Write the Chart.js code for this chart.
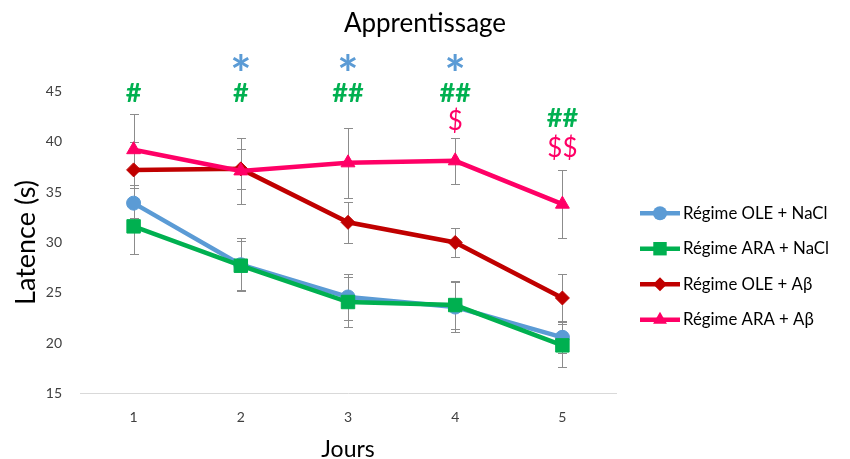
<!DOCTYPE html>
<html>
<head>
<meta charset="utf-8">
<script src="https://cdn.jsdelivr.net/npm/chart.js@4.4.1/dist/chart.umd.min.js"></script>
<style>
  html, body { margin: 0; padding: 0; background: #fff; }
  #wrap { width: 850px; height: 459px; }
</style>
</head>
<body>
<div id="wrap"><canvas id="chart"></canvas></div>
<script>
const days = ["1", "2", "3", "4", "5"];

const oleNacl = [33.9, 27.8, 24.6, 23.6, 20.6];
const araNacl = [31.6, 27.7, 24.1, 23.8, 19.8];
const oleAbeta = [37.2, 37.3, 32.0, 30.0, 24.5];
const araAbeta = [39.2, 37.1, 37.9, 38.1, 33.8];

// SEM for each group
const oleNaclErr = [1.5, 2.6, 2.3, 2.5, 1.6];
const araNaclErr = [2.7, 2.4, 2.5, 2.4, 2.1];
const oleAbetaErr = [2.8, 2.0, 2.0, 1.4, 2.4];
const araAbetaErr = [3.5, 3.3, 3.5, 2.3, 3.4];

const yTicks = [15, 20, 25, 30, 35, 40, 45];

// significance marks above each day
const starMarks = ["", "*", "*", "*", ""];
const hashMarks = ["#", "#", "##", "##", "##"];
const dollarMarks = ["", "", "", "$", "$$"];
// where each mark row is centred (in y units)
const starLevel = [47.8, 47.8, 47.8, 47.8, 47.8];
const hashLevel = [44.9, 44.9, 44.9, 44.9, 42.4];
const dollarLevel = [0, 0, 0, 42.1, 39.5];

const FONT = "Lato, 'Open Sans', sans-serif";

const COLORS = ["#5B9BD5", "#00B050", "#C00000", "#FF0066"];
const STYLES = ["circle", "rect", "rectRot", "triangle"];
const RADII = [7, 9.5, 7, 8];

function makeSet(label, data, err, i) {
  return {
    label: label, data: data, err: err,
    borderColor: COLORS[i], backgroundColor: COLORS[i],
    borderWidth: 4.5, pointStyle: STYLES[i],
    pointRadius: RADII[i], pointHoverRadius: RADII[i],
    pointBorderWidth: 1,
    tension: 0, order: 4 - i
  };
}

const errorBars = {
  id: "errorBars",
  beforeDatasetsDraw(chart) {
    const ctx = chart.ctx;
    const y = chart.scales.y;
    ctx.save();
    ctx.strokeStyle = "#8c8c8c";
    ctx.lineWidth = 1;
    chart.data.datasets.forEach((ds, i) => {
      const meta = chart.getDatasetMeta(i);
      meta.data.forEach((pt, j) => {
        const v = ds.data[j], e = ds.err[j];
        const top = Math.round(y.getPixelForValue(v + e)) + 0.5;
        const bot = Math.round(y.getPixelForValue(v - e)) + 0.5;
        const x = Math.round(pt.x) + 0.5;
        ctx.beginPath();
        ctx.moveTo(x, top); ctx.lineTo(x, bot);
        ctx.moveTo(x - 4.5, top); ctx.lineTo(x + 4.5, top);
        ctx.moveTo(x - 4.5, bot); ctx.lineTo(x + 4.5, bot);
        ctx.stroke();
      });
    });
    ctx.restore();
  }
};

const sigMarks = {
  id: "sigMarks",
  afterDraw(chart) {
    const ctx = chart.ctx;
    const x = chart.scales.x, y = chart.scales.y;
    ctx.save();
    ctx.textAlign = "center";
    ctx.textBaseline = "alphabetic";
    const rows = [
      [starMarks, starLevel, COLORS[0], "bold 50px " + FONT],
      [hashMarks, hashLevel, COLORS[1], "bold 27px " + FONT],
      [dollarMarks, dollarLevel, COLORS[3], "26px " + FONT]
    ];
    rows.forEach(([marks, levels, color, font]) => {
      ctx.fillStyle = color;
      ctx.font = font;
      marks.forEach((m, j) => {
        if (!m) return;
        const tm = ctx.measureText(m);
        // centre the glyph box on the target
        const off = (tm.actualBoundingBoxAscent - tm.actualBoundingBoxDescent) / 2;
        ctx.fillText(m, x.getPixelForValue(j), y.getPixelForValue(levels[j]) + off);
      });
    });
    ctx.restore();
  }
};

// legend on the right: line + marker, then label
const sideLegend = {
  id: "sideLegend",
  afterDraw(chart) {
    const ctx = chart.ctx;
    const area = chart.chartArea;
    const left = area.right + 24;
    ctx.save();
    chart.data.datasets.forEach((ds, i) => {
      const cy = area.top + 122 + i * 35.5;
      ctx.strokeStyle = ds.borderColor;
      ctx.lineWidth = 4.5;
      ctx.beginPath(); ctx.moveTo(left, cy); ctx.lineTo(left + 40, cy); ctx.stroke();
      ctx.fillStyle = ds.borderColor;
      Chart.helpers.drawPoint(ctx, { pointStyle: ds.pointStyle, radius: ds.pointRadius, rotation: 0, borderWidth: 0 }, left + 20, cy);
      ctx.fillStyle = "#000";
      ctx.font = "16.8px " + FONT;
      ctx.textAlign = "left";
      ctx.textBaseline = "middle";
      ctx.fillText(ds.label, left + 43, cy);
    });
    ctx.restore();
  }
};

new Chart(document.getElementById("chart"), {
  type: "line",
  data: {
    labels: days,
    datasets: [
      makeSet("Régime OLE + NaCl", oleNacl, oleNaclErr, 0),
      makeSet("Régime ARA + NaCl", araNacl, araNaclErr, 1),
      makeSet("Régime OLE + Aβ", oleAbeta, oleAbetaErr, 2),
      makeSet("Régime ARA + Aβ", araAbeta, araAbetaErr, 3)
    ]
  },
  options: {
    responsive: true,
    maintainAspectRatio: false,
    animation: false,
    layout: { padding: 0 },
    plugins: {
      tooltip: { enabled: false },
      legend: { display: false },
      title: {
        display: true, text: "Apprentissage", color: "#000",
        font: { family: FONT, size: 26, weight: "normal" },
        padding: { top: 8, bottom: 52 }
      }
    },
    scales: {
      x: {
        offset: true,
        grid: { display: false, drawTicks: false },
        border: { display: true, color: "#d9d9d9", width: 1 },
        ticks: { color: "#404040", font: { family: FONT, size: 14 }, padding: 15 },
        title: { display: true, text: "Jours", color: "#000", font: { family: FONT, size: 23, lineHeight: 0.8 }, padding: 0 }
      },
      y: {
        min: 15, max: 45,
        afterBuildTicks(axis) { axis.ticks = yTicks.map(v => ({ value: v })); },
        afterFit(axis) { axis.width = 80; },
        grid: { display: false, drawTicks: false },
        border: { display: false },
        ticks: { color: "#404040", font: { family: FONT, size: 14 }, padding: 18 },
        title: { display: true, text: "Latence (s)", color: "#000", font: { family: FONT, size: 27 }, padding: { top: 10, bottom: 0 } }
      },
      // empty axis that keeps room for the legend on the right
      side: {
        position: "right",
        afterFit(axis) { axis.width = 234; },
        grid: { display: false },
        border: { display: false },
        ticks: { display: false }
      }
    }
  },
  plugins: [errorBars, sigMarks, sideLegend]
});
</script>
</body>
</html>
